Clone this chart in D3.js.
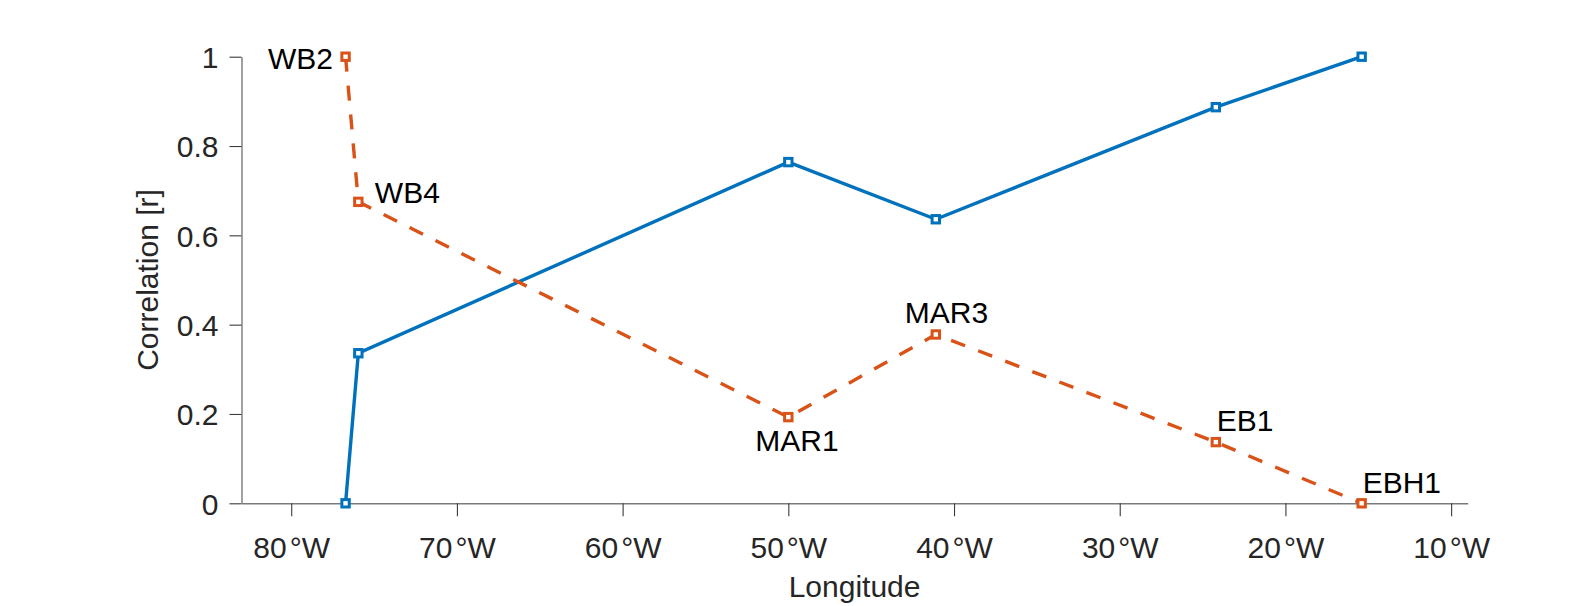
<!DOCTYPE html>
<html lang="en">
<head>
    <meta charset="UTF-8">
    <title>Correlation vs longitude</title>
    <script src="https://d3js.org/d3.v7.min.js"></script>
    <style>
        body { margin: 0; background: #fff; }
        svg { display: block; font-family: "Liberation Sans", Arial, sans-serif; }
        .tick text { fill: #262626; font-size: 30px; }
        .site { fill: #000; font-size: 30px; }
        .axis-title { fill: #262626; font-size: 30px; text-anchor: middle; }
    </style>
</head>
<body>
<script>
    // mooring sites along the section
    const sites = ["WB2", "WB4", "MAR1", "MAR3", "EB1", "EBH1"];
    const longitudes = [-76.72, -75.95, -50.0, -41.1, -24.2, -15.4];
    const corrWest = [0, 0.336, 0.764, 0.636, 0.887, 1.0];   // solid blue
    const corrEast = [1.0, 0.675, 0.193, 0.378, 0.137, 0];   // dashed orange
    const xTicks = [-80, -70, -60, -50, -40, -30, -20, -10];
    const yTicks = [0, 0.2, 0.4, 0.6, 0.8, 1];

    // label placement relative to the orange markers (px)
    const labelPos = [
        {anchor: "end", dx: -12.5, dy: 12},
        {anchor: "start", dx: 16.5, dy: 1},
        {anchor: "start", dx: -33, dy: 34},
        {anchor: "start", dx: -31, dy: -11},
        {anchor: "start", dx: 1, dy: -11.5},
        {anchor: "start", dx: 1, dy: -10.5}
    ];

    const width = 1572, height = 606;
    const plotL = 241.5, plotR = 1467.7, plotT = 56.7, plotB = 503.3;
    const blue = "#0072BD", orange = "#D95319";

    const x = d3.scaleLinear().domain([-83, -9]).range([plotL, plotR]);
    const y = d3.scaleLinear().domain([0, 1]).range([plotB, plotT]);

    const svg = d3.select("body").append("svg")
            .attr("width", width).attr("height", height);

    const xAxis = d3.axisBottom(x).tickValues(xTicks)
            .tickSize(13).tickSizeOuter(0).tickPadding(20)
            .tickFormat(d => -d);
    const yAxis = d3.axisLeft(y).tickValues(yTicks)
            .tickSize(12).tickSizeOuter(0).tickPadding(11)
            .tickFormat(d3.format("~g"));

    const gx = svg.append("g").attr("transform", `translate(0,${plotB})`).call(xAxis);
    const gy = svg.append("g").attr("transform", `translate(${plotL},0)`).call(yAxis);

    [gx, gy].forEach(g => {
        g.select(".domain").attr("stroke", "#7a7a7a").attr("stroke-width", 1.4);
        g.selectAll(".tick line").attr("stroke", "#3a3a3a").attr("stroke-width", 1.1);
        g.selectAll(".tick text").attr("font-family", null).attr("font-size", null);
    });
    gx.selectAll(".tick text").attr("dy", "0.71em")
            .each(function () {
                const t = d3.select(this), num = t.text();
                t.text(num);
                t.append("tspan").attr("dx", 3).text("°W");
            });
    gy.selectAll(".tick text").attr("dy", "0.36em");

    svg.append("text").attr("class", "axis-title")
            .attr("x", (plotL + plotR) / 2).attr("y", 597)
            .text("Longitude");
    svg.append("text").attr("class", "axis-title")
            .attr("transform", `translate(158,${(plotT + plotB) / 2}) rotate(-90)`)
            .text("Correlation [r]");

    const series = [
        {values: corrWest, color: blue, dash: null},
        {values: corrEast, color: orange, dash: "15,14"}
    ];

    series.forEach(s => {
        const pts = longitudes.map((lon, i) => [lon, s.values[i]]);
        svg.append("path")
                .datum(pts)
                .attr("fill", "none")
                .attr("stroke", s.color)
                .attr("stroke-width", 3.4)
                .attr("stroke-dasharray", s.dash)
                .attr("d", d3.line().x(d => x(d[0])).y(d => y(d[1])));
        svg.append("g").selectAll("rect")
                .data(pts).join("rect")
                .attr("x", d => x(d[0]) - 3.7)
                .attr("y", d => y(d[1]) - 3.7)
                .attr("width", 7.4).attr("height", 7.4)
                .attr("fill", "#fff")
                .attr("stroke", s.color)
                .attr("stroke-width", 3);
    });

    svg.append("g").selectAll("text")
            .data(sites).join("text")
            .attr("class", "site")
            .attr("x", (d, i) => x(longitudes[i]) + labelPos[i].dx)
            .attr("y", (d, i) => y(corrEast[i]) + labelPos[i].dy)
            .attr("text-anchor", (d, i) => labelPos[i].anchor)
            .text(d => d);
</script>
</body>
</html>
